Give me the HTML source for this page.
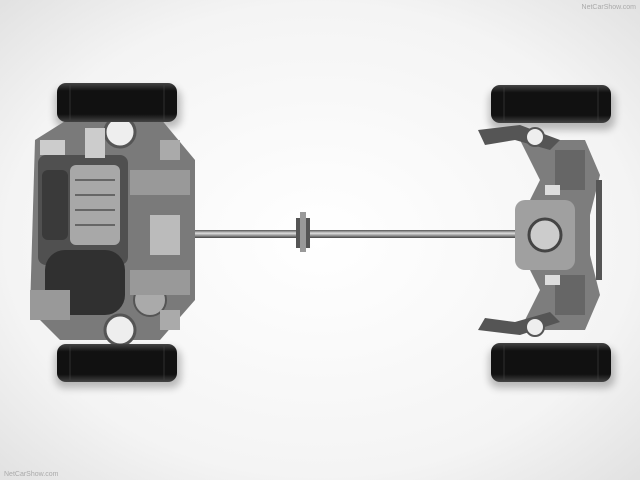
<!DOCTYPE html>
<html><head><meta charset="utf-8"><style>
html,body{margin:0;padding:0;width:640px;height:480px;overflow:hidden;background:#fff}
</style></head><body>
<svg width="640" height="480" viewBox="0 0 640 480" xmlns="http://www.w3.org/2000/svg" font-family="Liberation Sans, sans-serif">
<defs>
<radialGradient id="bg" cx="50%" cy="50%" r="70%">
<stop offset="0%" stop-color="#ffffff"/><stop offset="70%" stop-color="#f4f4f4"/><stop offset="100%" stop-color="#e2e2e2"/>
</radialGradient>
<linearGradient id="tire" x1="0" y1="0" x2="0" y2="1">
<stop offset="0" stop-color="#444"/><stop offset="0.2" stop-color="#111"/><stop offset="0.8" stop-color="#111"/><stop offset="1" stop-color="#444"/>
</linearGradient>
<linearGradient id="shaft" x1="0" y1="0" x2="0" y2="1">
<stop offset="0" stop-color="#555"/><stop offset="0.4" stop-color="#ddd"/><stop offset="1" stop-color="#444"/>
</linearGradient>
<filter id="sh"><feGaussianBlur stdDeviation="4"/></filter>
</defs>
<rect width="640" height="480" fill="url(#bg)"/>
<g opacity="0.25" filter="url(#sh)">
<rect x="55" y="88" width="126" height="40" rx="10" fill="#000"/>
<rect x="55" y="348" width="126" height="40" rx="10" fill="#000"/>
<rect x="489" y="90" width="126" height="40" rx="10" fill="#000"/>
<rect x="489" y="348" width="126" height="40" rx="10" fill="#000"/>
</g>
<rect x="160" y="230" width="365" height="8" fill="url(#shaft)"/>
<rect x="296" y="218" width="14" height="30" fill="#555"/>
<rect x="300" y="212" width="6" height="40" fill="#999"/>
<!-- front engine -->
<g>
<path d="M35 140 L70 118 L160 118 L195 160 L195 300 L160 340 L60 340 L30 310 Z" fill="#7a7a7a"/>
<rect x="38" y="155" width="90" height="110" rx="8" fill="#505050"/>
<rect x="70" y="165" width="50" height="80" rx="6" fill="#a8a8a8"/>
<g stroke="#666" stroke-width="2"><line x1="75" y1="180" x2="115" y2="180"/><line x1="75" y1="195" x2="115" y2="195"/><line x1="75" y1="210" x2="115" y2="210"/><line x1="75" y1="225" x2="115" y2="225"/></g>
<rect x="42" y="170" width="26" height="70" rx="6" fill="#3a3a3a"/>
<rect x="45" y="250" width="80" height="65" rx="20" fill="#303030"/>
<circle cx="150" cy="300" r="16" fill="#aaa" stroke="#555" stroke-width="2"/>
<circle cx="120" cy="132" r="15" fill="#eee" stroke="#555" stroke-width="3"/>
<circle cx="120" cy="330" r="15" fill="#eee" stroke="#555" stroke-width="3"/>
<rect x="130" y="170" width="60" height="25" fill="#999"/>
<rect x="130" y="270" width="60" height="25" fill="#999"/>
<rect x="150" y="215" width="30" height="40" fill="#bbb"/>
<rect x="85" y="128" width="20" height="30" fill="#ccc"/>
<rect x="30" y="290" width="40" height="30" fill="#999"/>
<rect x="40" y="140" width="25" height="15" fill="#ccc"/>
<rect x="160" y="140" width="20" height="20" fill="#aaa"/>
<rect x="160" y="310" width="20" height="20" fill="#aaa"/>
</g>
<!-- rear subframe -->
<g>
<path d="M520 140 L585 140 L600 175 L590 215 L590 255 L600 295 L585 330 L520 330 L540 290 L520 250 L520 220 L540 180 Z" fill="#7d7d7d"/>
<rect x="515" y="200" width="60" height="70" rx="10" fill="#a0a0a0"/>
<circle cx="545" cy="235" r="16" fill="#ccc" stroke="#444" stroke-width="3"/>
<path d="M478 130 L520 125 L560 140 L550 150 L515 140 L485 145 Z" fill="#555"/>
<path d="M478 330 L520 335 L560 322 L550 312 L515 322 L485 318 Z" fill="#555"/>
<circle cx="535" cy="137" r="9" fill="#eee" stroke="#555" stroke-width="2"/>
<circle cx="535" cy="327" r="9" fill="#eee" stroke="#555" stroke-width="2"/>
<rect x="596" y="180" width="6" height="100" fill="#555"/>
<rect x="555" y="150" width="30" height="40" fill="#666"/>
<rect x="555" y="275" width="30" height="40" fill="#666"/>
<rect x="545" y="185" width="15" height="10" fill="#ddd"/>
<rect x="545" y="275" width="15" height="10" fill="#ddd"/>
</g>
<rect x="57" y="83" width="120" height="39" rx="9" fill="url(#tire)"/>
<rect x="57" y="344" width="120" height="38" rx="9" fill="url(#tire)"/>
<rect x="491" y="85" width="120" height="38" rx="9" fill="url(#tire)"/>
<rect x="491" y="343" width="120" height="39" rx="9" fill="url(#tire)"/>
<g stroke="#444" stroke-width="1" opacity="0.6">
<line x1="70" y1="85" x2="70" y2="120"/><line x1="164" y1="85" x2="164" y2="120"/>
<line x1="70" y1="346" x2="70" y2="380"/><line x1="164" y1="346" x2="164" y2="380"/>
<line x1="504" y1="87" x2="504" y2="121"/><line x1="598" y1="87" x2="598" y2="121"/>
<line x1="504" y1="345" x2="504" y2="380"/><line x1="598" y1="345" x2="598" y2="380"/>
</g>
<text x="636" y="9" font-size="7" fill="#aaa" text-anchor="end">NetCarShow.com</text>
<text x="4" y="476" font-size="7" fill="#aaa">NetCarShow.com</text>
</svg>
</body></html>
